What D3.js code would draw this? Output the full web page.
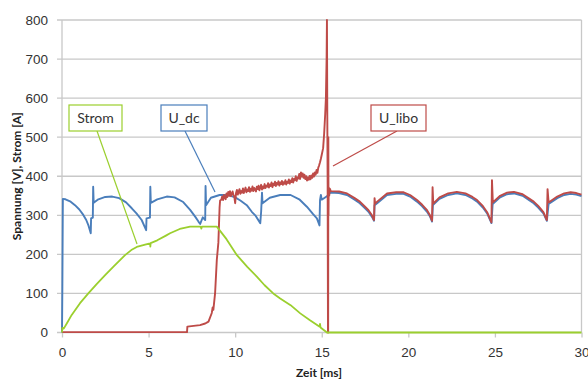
<!DOCTYPE html>
<html>
<head>
<meta charset="utf-8">
<title>Spannung und Strom</title>
<script src="https://d3js.org/d3.v7.min.js"></script>
<style>
body { margin: 0; background: #fff; }
svg { display: block; font-family: Lato, "Liberation Sans", sans-serif; }
.grid line { stroke: #c8c8c8; stroke-width: 1.3px; }
.axis path, .axis line { stroke: #c8c8c8; stroke-width: 1.3px; }
.axis text { fill: #333; font-size: 13.5px; }
.title { font-weight: bold; font-size: 12px; fill: #222; }
.callout text { font-size: 14px; fill: #333; }
</style>
</head>
<body>
<svg width="588" height="380"></svg>
<script>

// U_dc (blau)
var tDc = [0, 0.02, 0.05, 0.2, 0.5, 0.75, 1.0, 1.23, 1.4, 1.52, 1.66,
  1.68, 1.78, 1.8, 1.83,
  2.1, 2.5, 2.9, 3.3, 3.7, 4.03, 4.3, 4.6, 4.86,
  4.88, 5.08, 5.1, 5.13,
  5.5, 6.05, 6.5, 7.0, 7.4, 7.7, 7.88, 7.98, 8.13, 8.27,
  8.29, 8.32,
  8.6, 9.1, 9.6, 10.0, 10.3, 10.67, 10.96, 11.16, 11.45,
  11.5, 11.55, 11.58,
  12.0, 12.6, 13.2, 13.7, 14.14, 14.5, 14.72, 14.87,
  14.9, 14.95, 15.0, 15.3,
  15.5, 16.0, 16.46, 16.9, 17.2, 17.5, 17.7, 17.9, 18.02,
  18.05, 18.2, 18.77, 19.3, 19.73, 20.1, 20.5, 20.8, 21.08, 21.25, 21.37,
  21.42, 21.8, 22.3, 22.8, 23.3, 23.7, 23.97, 24.3, 24.55, 24.8,
  24.87, 25.3, 25.7, 26.1, 26.6, 27.0, 27.24, 27.5, 27.8, 28.0,
  28.1, 28.6, 29.0, 29.37, 29.7, 30.0];
var uDc = [0, 110, 342, 341, 335, 326, 315, 301, 288, 275, 254,
  292, 294, 373, 332,
  341, 347, 348, 344, 333, 318, 305, 288, 262,
  292, 294, 373, 332,
  341, 348, 346, 334, 314, 296, 284, 278, 295, 288,
  375, 326,
  345, 352, 352, 346, 338, 326, 309, 300, 280,
  309, 358, 331,
  345, 352, 352, 341, 322, 303, 292, 274,
  339, 352, 340, 349,
  358, 357, 352, 340, 331, 318, 309, 296, 286,
  326, 331, 352, 355, 355, 348, 335, 323, 309, 297, 284,
  326, 342, 352, 356, 352, 343, 335, 320, 305, 280,
  329, 346, 354, 356, 350, 338, 331, 320, 305, 286,
  329, 344, 352, 355, 353, 349];

// U_libo (rot)
var tLibo = [0, 7.22, 7.24, 7.6, 7.97, 8.27, 8.46, 8.65, 8.7, 8.74, 8.84, 8.94, 9.03, 9.1, 9.13,
  9.20, 9.25, 9.30, 9.35, 9.40, 9.45, 9.50, 9.55, 9.60, 9.65, 9.70, 9.75, 9.80, 9.85, 9.90, 9.95,
  10.00, 10.05, 10.10, 10.15, 10.20, 10.25, 10.30, 10.35, 10.40, 10.45, 10.50, 10.55, 10.60, 10.65,
  10.70, 10.75, 10.80, 10.85, 10.90, 10.95, 11.00, 11.05, 11.10, 11.15, 11.20, 11.25, 11.30, 11.35,
  11.40, 11.45, 11.50, 11.55, 11.60, 11.65, 11.70, 11.75, 11.80, 11.85, 11.90, 11.95, 12.00, 12.05,
  12.10, 12.15, 12.20, 12.25, 12.30, 12.35, 12.40, 12.45, 12.50, 12.55, 12.60, 12.65, 12.70, 12.75,
  12.80, 12.85, 12.90, 12.95, 13.00, 13.05, 13.10, 13.15, 13.20, 13.25, 13.30, 13.35, 13.40, 13.45,
  13.50, 13.55, 13.60, 13.65, 13.70, 13.75, 13.80, 13.85, 13.90, 13.95, 14.00, 14.05, 14.10, 14.15,
  14.20, 14.25, 14.30, 14.35, 14.40, 14.45, 14.50, 14.55, 14.60, 14.65, 14.70, 14.75, 14.80, 14.85,
  14.90, 14.95, 15.00, 15.08, 15.14, 15.2, 15.24, 15.28, 15.3, 15.32, 15.34, 15.36, 15.37, 15.38,
  15.39, 15.4, 15.43, 15.47,
  15.52, 16.0, 16.46, 16.9, 17.2, 17.5, 17.7, 17.9, 18.02, 18.05, 18.08, 18.2, 18.77, 19.3,
  19.73, 20.1, 20.5, 20.8, 21.08, 21.25, 21.37, 21.4, 21.44, 21.8, 22.3, 22.8, 23.3, 23.7,
  23.97, 24.3, 24.55, 24.8, 24.83, 24.88, 25.3, 25.7, 26.1, 26.6, 27.0, 27.24, 27.5, 27.8,
  28.0, 28.04, 28.1, 28.6, 29.0, 29.37, 29.7, 30.0];
var uLibo = [1, 1, 15, 17, 19, 23, 28, 50, 64, 58, 100, 186, 230, 320, 338,
  340, 348, 339, 352, 344, 341, 356, 347, 360, 350, 362, 349, 355, 361, 352, 348,
  331, 357, 365, 353, 360, 367, 355, 362, 358, 369, 357, 364, 371, 359,
  366, 362, 372, 360, 368, 363, 374, 362, 370, 366, 361, 373, 367, 376,
  364, 371, 378, 366, 374, 369, 380, 370, 376, 373, 382, 371, 379, 375,
  384, 372, 381, 377, 386, 375, 383, 379, 387, 376, 384, 380, 388, 378,
  385, 381, 390, 379, 386, 383, 392, 381, 389, 385, 395, 384, 393, 390,
  400, 388, 397, 394, 406, 393, 410, 399, 407, 396, 404, 393, 400, 389,
  397, 391, 401, 392, 402, 396, 407, 399, 410, 404, 416, 409, 422, 428,
  436, 445, 455, 472, 510, 560, 600, 700, 800, 560, 380, 0, 0, 500,
  300, 372, 350, 368,
  362, 361, 356, 344, 335, 322, 313, 300, 288, 344, 330, 335, 356, 359,
  359, 352, 339, 327, 313, 300, 286, 372, 330, 346, 356, 360, 356, 347,
  339, 324, 308, 282, 390, 333, 350, 358, 360, 354, 342, 335, 324, 308,
  288, 367, 333, 348, 356, 359, 357, 353];

// Strom (gruen)
var tStrom = [0, 0.02, 0.1, 0.3, 0.56, 1.04, 1.52, 2.0, 2.49, 3.0, 3.64, 4.0, 4.37, 4.8, 5.09,
  5.1, 5.12, 5.5, 6.0, 6.24, 6.8, 7.4, 8.0, 8.05, 8.08, 8.94, 9.5, 10.1, 10.7, 11.25,
  11.7, 12.2, 12.6, 13.2, 13.76, 14.3, 14.88, 14.9, 14.93, 15.3, 30];
var iStrom = [0, 12, 10, 25, 45, 75, 100, 124, 147, 170, 198, 211, 220, 225, 228,
  220, 229, 236, 248, 254, 265, 271, 271, 266, 271, 271, 239, 198, 168, 143,
  121, 100, 87, 70, 49, 32, 15, 22, 13, 0, 0];

var xTicks = [0, 5, 10, 15, 20, 25, 30];
var yTicks = [0, 100, 200, 300, 400, 500, 600, 700, 800];

var svg = d3.select("svg"),
    pLeft = 62, pRight = 581.5, pTop = 20, pBottom = 332.5;

var x = d3.scaleLinear().domain([0, 30]).range([pLeft, pRight]);
var y = d3.scaleLinear().domain([0, 800]).range([pBottom, pTop]);

// Gitterlinien
svg.append("g")
    .attr("class", "grid")
    .selectAll("line")
    .data(yTicks)
  .enter().append("line")
    .attr("x1", pLeft - 5)
    .attr("x2", pRight)
    .attr("y1", function(d) { return y(d); })
    .attr("y2", function(d) { return y(d); });

// Rahmen links/rechts
svg.append("g").attr("class", "grid")
  .selectAll("line").data([pLeft, pRight])
  .enter().append("line")
    .attr("x1", function(d) { return d; })
    .attr("x2", function(d) { return d; })
    .attr("y1", pTop)
    .attr("y2", pBottom);

// x-Achse
var xAxis = svg.append("g")
    .attr("class", "axis")
    .attr("transform", "translate(0," + pBottom + ")")
    .call(d3.axisBottom(x).tickValues(xTicks).tickSize(5).tickPadding(10).tickSizeOuter(0));
xAxis.select(".domain").remove();

// y-Achse
var yAxis = svg.append("g")
    .attr("class", "axis")
    .attr("transform", "translate(" + pLeft + ",0)")
    .call(d3.axisLeft(y).tickValues(yTicks).tickSize(0).tickPadding(14));
yAxis.select(".domain").remove();

svg.append("text")
    .attr("class", "title")
    .attr("transform", "translate(21," + ((pTop + pBottom) / 2) + ") rotate(-90)")
    .attr("text-anchor", "middle")
    .text("Spannung [V], Strom [A]");

svg.append("text")
    .attr("class", "title")
    .attr("x", 319)
    .attr("y", 377)
    .attr("text-anchor", "middle")
    .text("Zeit [ms]");

function zip(ts, vs) {
  return ts.map(function(t, i) { return [t, vs[i]]; });
}

var line = d3.line()
    .x(function(d) { return x(d[0]); })
    .y(function(d) { return y(d[1]); });

svg.append("path")
    .datum(zip(tDc, uDc))
    .attr("fill", "none")
    .attr("stroke", "#4a7ebb")
    .attr("stroke-width", 1.9)
    .attr("stroke-linejoin", "round")
    .attr("d", line);

svg.append("path")
    .datum(zip(tLibo, uLibo))
    .attr("fill", "none")
    .attr("stroke", "#be4b48")
    .attr("stroke-width", 1.9)
    .attr("stroke-linejoin", "round")
    .attr("d", line);

svg.append("path")
    .datum(zip(tStrom, iStrom))
    .attr("fill", "none")
    .attr("stroke", "#9bcf2e")
    .attr("stroke-width", 1.8)
    .attr("stroke-linejoin", "round")
    .attr("d", line);

// Beschriftungen
var callouts = [
  {text: "Strom", color: "#9bcf2e", x0: 69, x1: 122, lx: 97, px: 137, py: 244},
  {text: "U_dc", color: "#4a7ebb", x0: 161, x1: 207, lx: 185, px: 215, py: 192},
  {text: "U_libo", color: "#be4b48", x0: 371, x1: 426, lx: 397, px: 333, py: 166}
];

var c = svg.selectAll(".callout")
    .data(callouts)
  .enter().append("g")
    .attr("class", "callout");

c.append("line")
    .attr("x1", function(d) { return d.lx; })
    .attr("y1", 131)
    .attr("x2", function(d) { return d.px; })
    .attr("y2", function(d) { return d.py; })
    .attr("stroke", function(d) { return d.color; })
    .attr("stroke-width", 1.2);

c.append("rect")
    .attr("x", function(d) { return d.x0; })
    .attr("y", 105)
    .attr("width", function(d) { return d.x1 - d.x0; })
    .attr("height", 26)
    .attr("fill", "#fff")
    .attr("stroke", function(d) { return d.color; })
    .attr("stroke-width", 1.2);

c.append("text")
    .attr("x", function(d) { return (d.x0 + d.x1) / 2; })
    .attr("y", 123)
    .attr("text-anchor", "middle")
    .text(function(d) { return d.text; });

</script>
</body>
</html>
